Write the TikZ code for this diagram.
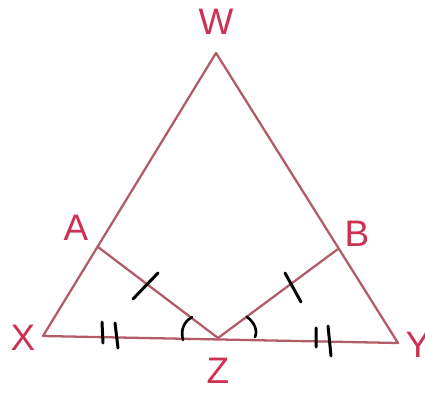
\documentclass[tikz,border=0pt]{standalone}
\usepackage{fontspec}
\setmainfont{Liberation Sans}
\definecolor{penred}{RGB}{178,92,104}
\definecolor{inkred}{RGB}{206,48,82}
\tikzset{
    side/.style={penred, line width=1.3pt, line join=round},
    lbl/.style={inkred, font=\fontsize{21}{24}\selectfont},
    tick/.style={black, line width=1.7pt, line cap=round}
}
\begin{document}
\begin{tikzpicture}[x=0.02cm, y=-0.02cm]
                \useasboundingbox (0,0) rectangle (425,394);
                % triangle corners and feet
                \coordinate (W) at (216,53);
                \coordinate (X) at (43,336);
                \coordinate (Y) at (398,343);
                \coordinate (Z) at (218,338);
                \coordinate (A) at (98,247);
                \coordinate (B) at (338,249);
                \draw[side] (W) -- (X) -- (Y) -- cycle;
                \draw[side] (A) -- (Z) -- (B);
                % letters
                \foreach \pt/\x/\y in {W/216/22, X/23/338, Y/418/345, Z/218/371, A/76/228, B/357/234} {
                    \node[lbl] (lbl\pt) at (\x,\y) {\pt};
                }
                % equal marks, drawn by hand
                \draw[tick] (133,299) -- (158,273);
                \draw[tick] (285,273) -- (301,302);
                \draw[tick] (102,322) -- (103,343)
                    (115,323) -- (118,348);
                \draw[tick] (316,328) -- (316,347)
                    (328,326) -- (331,356);
                % equal angles at Z
                \draw[tick, line width=1.5pt] (192,317) .. controls (182,323) and (181,332) .. (183,340);
                \draw[tick, line width=1.5pt] (247,317) .. controls (254,322) and (258,330) .. (255,337);
            \end{tikzpicture}
\end{document}
